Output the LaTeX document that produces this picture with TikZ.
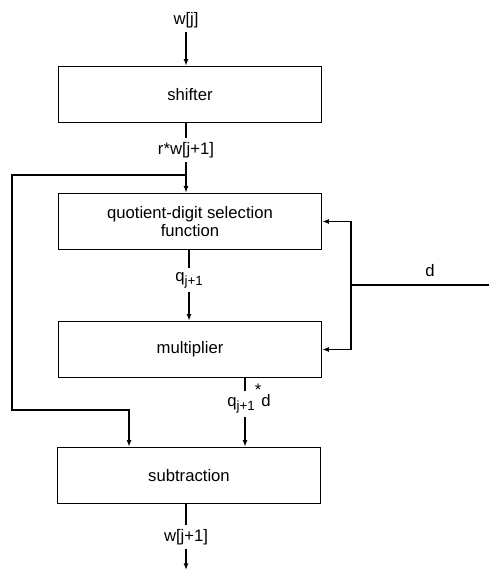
\documentclass[tikz,border=0pt]{standalone}
\usepackage{fontspec}
\setmainfont{Liberation Sans}
\usetikzlibrary{arrows.meta}
\newcommand{\sbs}[1]{\raisebox{-0.45ex}{\fontsize{8}{9}\selectfont #1}}
\begin{document}
\begin{tikzpicture}[x=0.6pt,y=-0.6pt,line width=0.9pt,
  blk/.style={draw, minimum width=157.8pt, minimum height=33.6pt, inner sep=0pt,
    align=center, font=\fontsize{10}{11}\selectfont},
  lbl/.style={inner sep=2pt, font=\fontsize{10}{11}\selectfont},
  arr/.style={-{Latex[length=4pt,width=3pt]}}]
\useasboundingbox (0,0) rectangle (489,571);
\node[blk] (shifter) at (190,94.5) {shifter};
\node[blk] (qds) at (190,221.5) {quotient-digit selection\\function};
\node[blk] (mul) at (190,349.5) {multiplier};
\node[blk] (sub) at (189,475.5) {subtraction};
\node[lbl] (win) at (186,20) {w[j]};
\node[lbl] (rw) at (186,150) {r*w[j+1]};
\node[lbl] (q1) at (189,280) {q\sbs{j+1}};
\node[lbl] (qd) at (249,404) {q\sbs{j+1}\smash{\raisebox{1.3ex}{*}}d};
\node[lbl] (dl) at (430,271) {d};
\node[lbl] (wout) at (186,537) {w[j+1]};
\coordinate (split) at (186,175);
\coordinate (fbl) at (12,410);
\coordinate (subl) at (129,0);
\coordinate (qdx) at (245,0);
\coordinate (din) at (489,285);
\coordinate (dsplit) at (351,285);
\coordinate (wend) at (186,570);
\draw[arr] (win) -- (win |- shifter.north);
\draw (rw |- shifter.south) -- (rw);
\draw (rw) -- (split);
\draw[arr] (split) -- (split |- qds.north);
\draw[arr] (split) -| (fbl) -| (subl |- sub.north);
\draw (qds.south -| q1) -- (q1);
\draw[arr] (q1) -- (q1 |- mul.north);
\draw (mul.south -| qdx) -- (qd.north -| qdx);
\draw[arr] (qd.south -| qdx) -- (sub.north -| qdx);
\draw (din) -- (dsplit);
\draw[arr] (dsplit) |- (qds.east);
\draw[arr] (dsplit) |- (mul.east);
\draw (sub.south -| wout) -- (wout);
\draw[arr] (wout) -- (wend);
\end{tikzpicture}
\end{document}
